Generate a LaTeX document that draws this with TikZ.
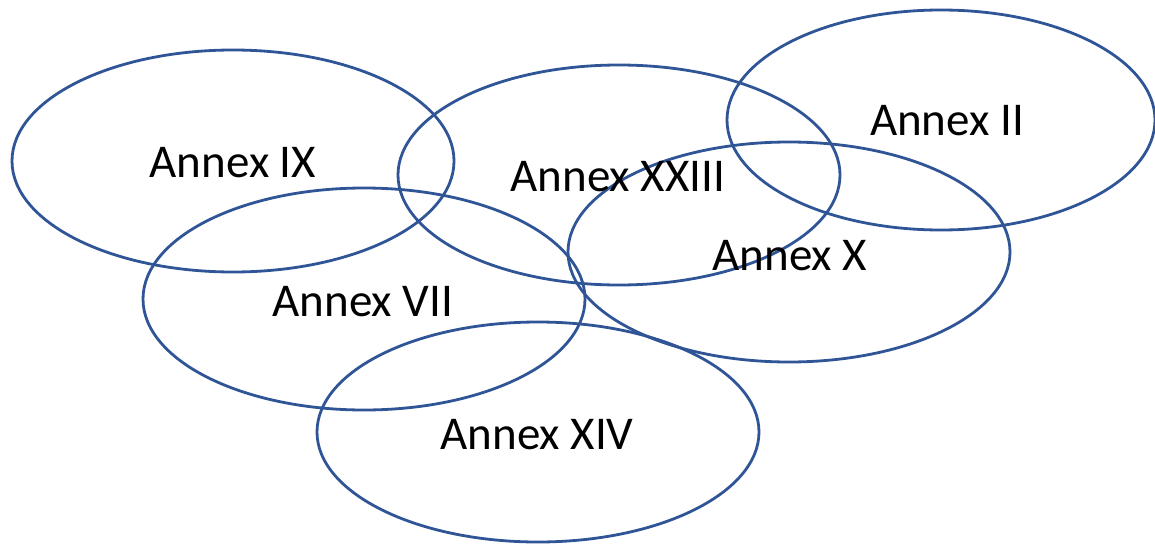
\documentclass[tikz,border=0pt]{standalone}
\usepackage{fontspec}
\setmainfont{Carlito}
\definecolor{ringblue}{HTML}{2F5597}
\begin{document}
\begin{tikzpicture}[x=1pt,y=-1pt,
  ring/.style={draw=ringblue,line width=2.8pt},
  lbl/.style={font=\fontsize{47}{51}\selectfont,text=black,inner sep=0pt}]
\useasboundingbox (0,0) rectangle (1155,543);
\clip (0,0) rectangle (1155,543);
\draw[ring] (233,161) ellipse [x radius=221, y radius=111];
\draw[ring] (619,175) ellipse [x radius=221, y radius=110];
\draw[ring] (941,120) ellipse [x radius=214, y radius=110];
\draw[ring] (789,252) ellipse [x radius=221, y radius=110];
\draw[ring] (364,299) ellipse [x radius=221, y radius=111];
\draw[ring] (538,432) ellipse [x radius=221, y radius=110];
\node[lbl] (ix) at (233,163) {Annex IX};
\node[lbl] (xxiii) at (618,177) {Annex XXIII};
\node[lbl] (ii) at (947,121) {Annex II};
\node[lbl] (x) at (790,256) {Annex X};
\node[lbl] (vii) at (363,302) {Annex VII};
\node[lbl] (xiv) at (537,435) {Annex XIV};
\end{tikzpicture}
\end{document}
